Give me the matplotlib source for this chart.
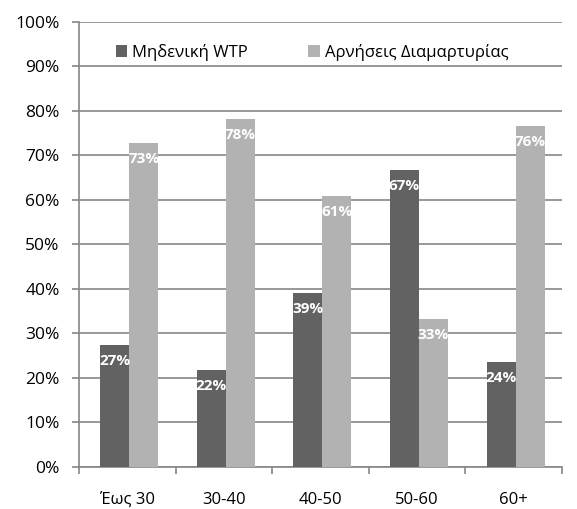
import numpy as np
import matplotlib.pyplot as plt
from matplotlib.ticker import FixedLocator, FuncFormatter

plt.rcParams['font.family'] = ['Open Sans', 'DejaVu Sans']

age_groups = ['Έως 30', '30-40', '40-50', '50-60', '60+']
zero_wtp = [27.3, 21.9, 39.1, 66.7, 23.5]
protest = [72.7, 78.1, 60.9, 33.3, 76.5]
series_names = ['Μηδενική WTP', 'Αρνήσεις Διαμαρτυρίας']

dark = '#626262'
light = '#b2b2b2'
grid_col = '#868686'

fig = plt.figure(figsize=(5.77, 5.09), dpi=100)
ax = fig.add_axes([0.137, 0.0825, 0.837, 0.8745])

x = np.arange(len(age_groups))
w = 0.3
b1 = ax.bar(x - w / 2 + 0.02, zero_wtp, w, color=dark, label=series_names[0], zorder=3)
b2 = ax.bar(x + w / 2 + 0.02, protest, w, color=light, label=series_names[1], zorder=3)

# value labels just under the top of each bar
for bars, vals in ((b1, zero_wtp), (b2, protest)):
    for rect, v in zip(bars, vals):
        ax.annotate(f'{v:.0f}%', (rect.get_x() + rect.get_width() / 2, v),
                    xytext=(0, -16), textcoords='offset pixels',
                    ha='center', va='center', color='white', fontsize=11,
                    fontweight='bold', zorder=4)

ax.set_ylim(0, 100)
ax.set_xlim(-0.5, len(age_groups) - 0.5)
ax.set_yticks(np.arange(0, 101, 10))
ax.yaxis.set_major_formatter(FuncFormatter(lambda v, p: f'{v:.0f}%'))
ax.yaxis.grid(True, color=grid_col, linewidth=1.2, zorder=0)

ax.set_xticks(x)
ax.set_xticklabels(age_groups)
ax.xaxis.set_minor_locator(FixedLocator(np.arange(-0.5, len(age_groups), 1)))
ax.tick_params(axis='x', which='major', length=0, pad=18, labelsize=12)
ax.tick_params(axis='x', which='minor', length=5, color=grid_col, width=1.2)
ax.tick_params(axis='y', length=5, color=grid_col, width=1.2, labelsize=12.5, pad=9)

for s in ('top', 'right'):
    ax.spines[s].set_visible(False)
for s in ('left', 'bottom'):
    ax.spines[s].set_color(grid_col)
    ax.spines[s].set_linewidth(1.2)

ax.legend(loc='upper left', bbox_to_anchor=(0.045, 0.985), ncol=2, frameon=False,
          fontsize=12, handlelength=0.7, handleheight=0.7, handletextpad=0.3,
          columnspacing=3.6)

fig.savefig('out.png', dpi=100)
